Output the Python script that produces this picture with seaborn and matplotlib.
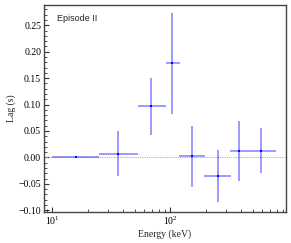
import numpy as np
import pandas as pd
import matplotlib
matplotlib.use("Agg")
import matplotlib.pyplot as plt
import seaborn as sns
from matplotlib.ticker import MultipleLocator, LogLocator, NullFormatter

energy = [16.0, 36.5, 69.0, 104.5, 152.7, 253.5, 384.6, 590.0]
energy_lo = [10.0, 25.2, 53.2, 92.0, 120.0, 195.0, 324.0, 447.0]
energy_hi = [25.2, 53.2, 92.0, 121.6, 199.0, 329.0, 452.0, 787.0]
lag = [0.0, 0.007, 0.097, 0.178, 0.002, -0.035, 0.012, 0.013]
lag_err = [0.0, 0.043, 0.054, 0.096, 0.057, 0.050, 0.057, 0.042]

df = pd.DataFrame({"energy": energy, "lag": lag})

sns.set_style("ticks")
plt.rcParams["font.family"] = ["Liberation Serif", "DejaVu Serif"]
plt.rcParams["mathtext.fontset"] = "stix"

fig = plt.figure(figsize=(2.91, 2.43), dpi=100)
ax = fig.add_axes([0.151, 0.128, 0.832, 0.853])

xerr = [np.array(energy) - np.array(energy_lo), np.array(energy_hi) - np.array(energy)]
ax.errorbar(energy, lag, xerr=xerr, yerr=lag_err, fmt="none",
            ecolor="blue", elinewidth=1.1, alpha=0.5, capsize=0, zorder=3)
sns.scatterplot(data=df, x="energy", y="lag", ax=ax, color="blue",
                marker="s", s=3, linewidth=0, zorder=4)
ax.axhline(0.0, color="#b0b0b0", lw=0.8, ls=(0, (1, 1)), zorder=1)

ax.set_xscale("log")
ax.set_xlim(8.55, 960)
ax.set_ylim(-0.103, 0.289)
ax.yaxis.set_major_locator(MultipleLocator(0.05))
ax.yaxis.set_minor_locator(MultipleLocator(0.01))
ax.xaxis.set_major_locator(LogLocator(base=10))
ax.xaxis.set_minor_locator(LogLocator(base=10, subs=np.arange(2, 10)))
ax.xaxis.set_minor_formatter(NullFormatter())
ax.yaxis.set_major_formatter(matplotlib.ticker.FuncFormatter(
    lambda v, p: ("\u2212" if v < -1e-9 else "") + f"{abs(v):.2f}"))

ax.tick_params(which="both", direction="in", top=False, right=False,
               labelsize=7, colors="#333333", labelcolor="black", pad=2)
ax.tick_params(which="major", length=3.5, width=0.8)
ax.tick_params(which="minor", length=2, width=0.6)
for s in ax.spines.values():
    s.set_color("#444444")
    s.set_linewidth(1.0)

ax.set_xlabel("Energy (keV)", fontsize=7, labelpad=2)
ax.set_ylabel("Lag (s)", fontsize=7, labelpad=2)
ax.text(0.055, 0.955, "Episode II", transform=ax.transAxes, fontsize=6.5,
        family=["Liberation Sans", "DejaVu Sans"], va="top", ha="left")

fig.savefig("out.png", dpi=100)
